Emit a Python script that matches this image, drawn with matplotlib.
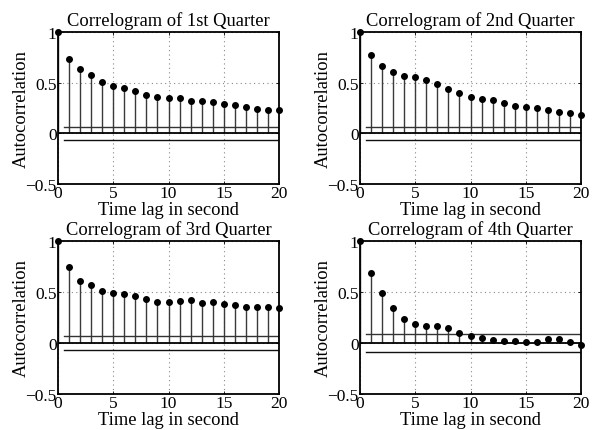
import matplotlib
matplotlib.use("Agg")
import matplotlib.pyplot as plt
import numpy as np

plt.rcParams['font.family'] = ['Liberation Serif', 'DejaVu Serif']
plt.rcParams['mathtext.fontset'] = 'stix'

titles = ["Correlogram of 1st Quarter", "Correlogram of 2nd Quarter",
          "Correlogram of 3rd Quarter", "Correlogram of 4th Quarter"]
lags = list(range(21))

acf_q1 = [1.0, 0.738, 0.639, 0.580, 0.505, 0.469, 0.443, 0.420, 0.377, 0.357, 0.348,
          0.348, 0.315, 0.315, 0.308, 0.292, 0.282, 0.262, 0.243, 0.230, 0.230]
acf_q2 = [1.0, 0.777, 0.662, 0.610, 0.567, 0.551, 0.531, 0.482, 0.436, 0.400, 0.354,
          0.338, 0.325, 0.302, 0.272, 0.259, 0.246, 0.230, 0.213, 0.200, 0.184]
acf_q3 = [1.0, 0.747, 0.609, 0.566, 0.513, 0.493, 0.480, 0.461, 0.434, 0.405, 0.401,
          0.411, 0.418, 0.388, 0.398, 0.378, 0.368, 0.352, 0.352, 0.355, 0.345]
acf_q4 = [1.0, 0.689, 0.492, 0.344, 0.236, 0.187, 0.164, 0.164, 0.148, 0.098, 0.069,
          0.046, 0.026, 0.020, 0.020, 0.013, 0.013, 0.036, 0.036, 0.013, -0.020]
bounds = [0.067, 0.067, 0.066, 0.092]

xticks = [0, 5, 10, 15, 20]
yticks = [-0.5, 0, 0.5, 1]
yticklabels = ["\u22120.5", "0", "0.5", "1"]

W, H = 592, 431
fig = plt.figure(figsize=(W / 100, H / 100), dpi=100)

# axes boxes in pixels: left, top, right, bottom
boxes = [(58, 33, 279, 185), (360, 33, 581, 185),
         (58, 242, 279, 395), (360, 242, 581, 395)]

series = [acf_q1, acf_q2, acf_q3, acf_q4]
for (l, t, r, b), acf, title, bnd in zip(boxes, series, titles, bounds):
    ax = fig.add_axes([l / W, 1 - b / H, (r - l) / W, (b - t) / H])
    ax.set_xlim(0, 20)
    ax.set_ylim(-0.5, 1)
    ax.set_xticks(xticks)
    ax.set_yticks(yticks)
    ax.set_yticklabels(yticklabels)
    ax.grid(True, linestyle=(0, (1, 3)), color='#888888', linewidth=0.8)
    ax.set_axisbelow(True)
    ml, sl, bl = ax.stem(lags, acf, basefmt='k-')
    plt.setp(sl, color='#3a3a3a', linewidth=1.0)
    plt.setp(ml, color='black', marker='o', markersize=4.0, clip_on=False, zorder=5)
    plt.setp(bl, color='black', linewidth=1.3)
    ax.plot([0.5, 20], [bnd, bnd], color='#333333', linewidth=1.0)
    ax.plot([0.5, 20], [-bnd, -bnd], color='#111111', linewidth=1.0)
    for s in ax.spines.values():
        s.set_linewidth(1.3)
        s.set_color('black')
    ax.tick_params(direction='in', length=2, width=0.6, labelsize=12.5, pad=1,
                   top=True, right=True)
    ax.set_title(title, fontsize=13.3, pad=5)
    ax.set_xlabel("Time lag in second", fontsize=13.3, labelpad=-0.5)
    ax.set_ylabel("Autocorrelation", fontsize=13.3, labelpad=-3)

fig.savefig("out.png", dpi=100)
